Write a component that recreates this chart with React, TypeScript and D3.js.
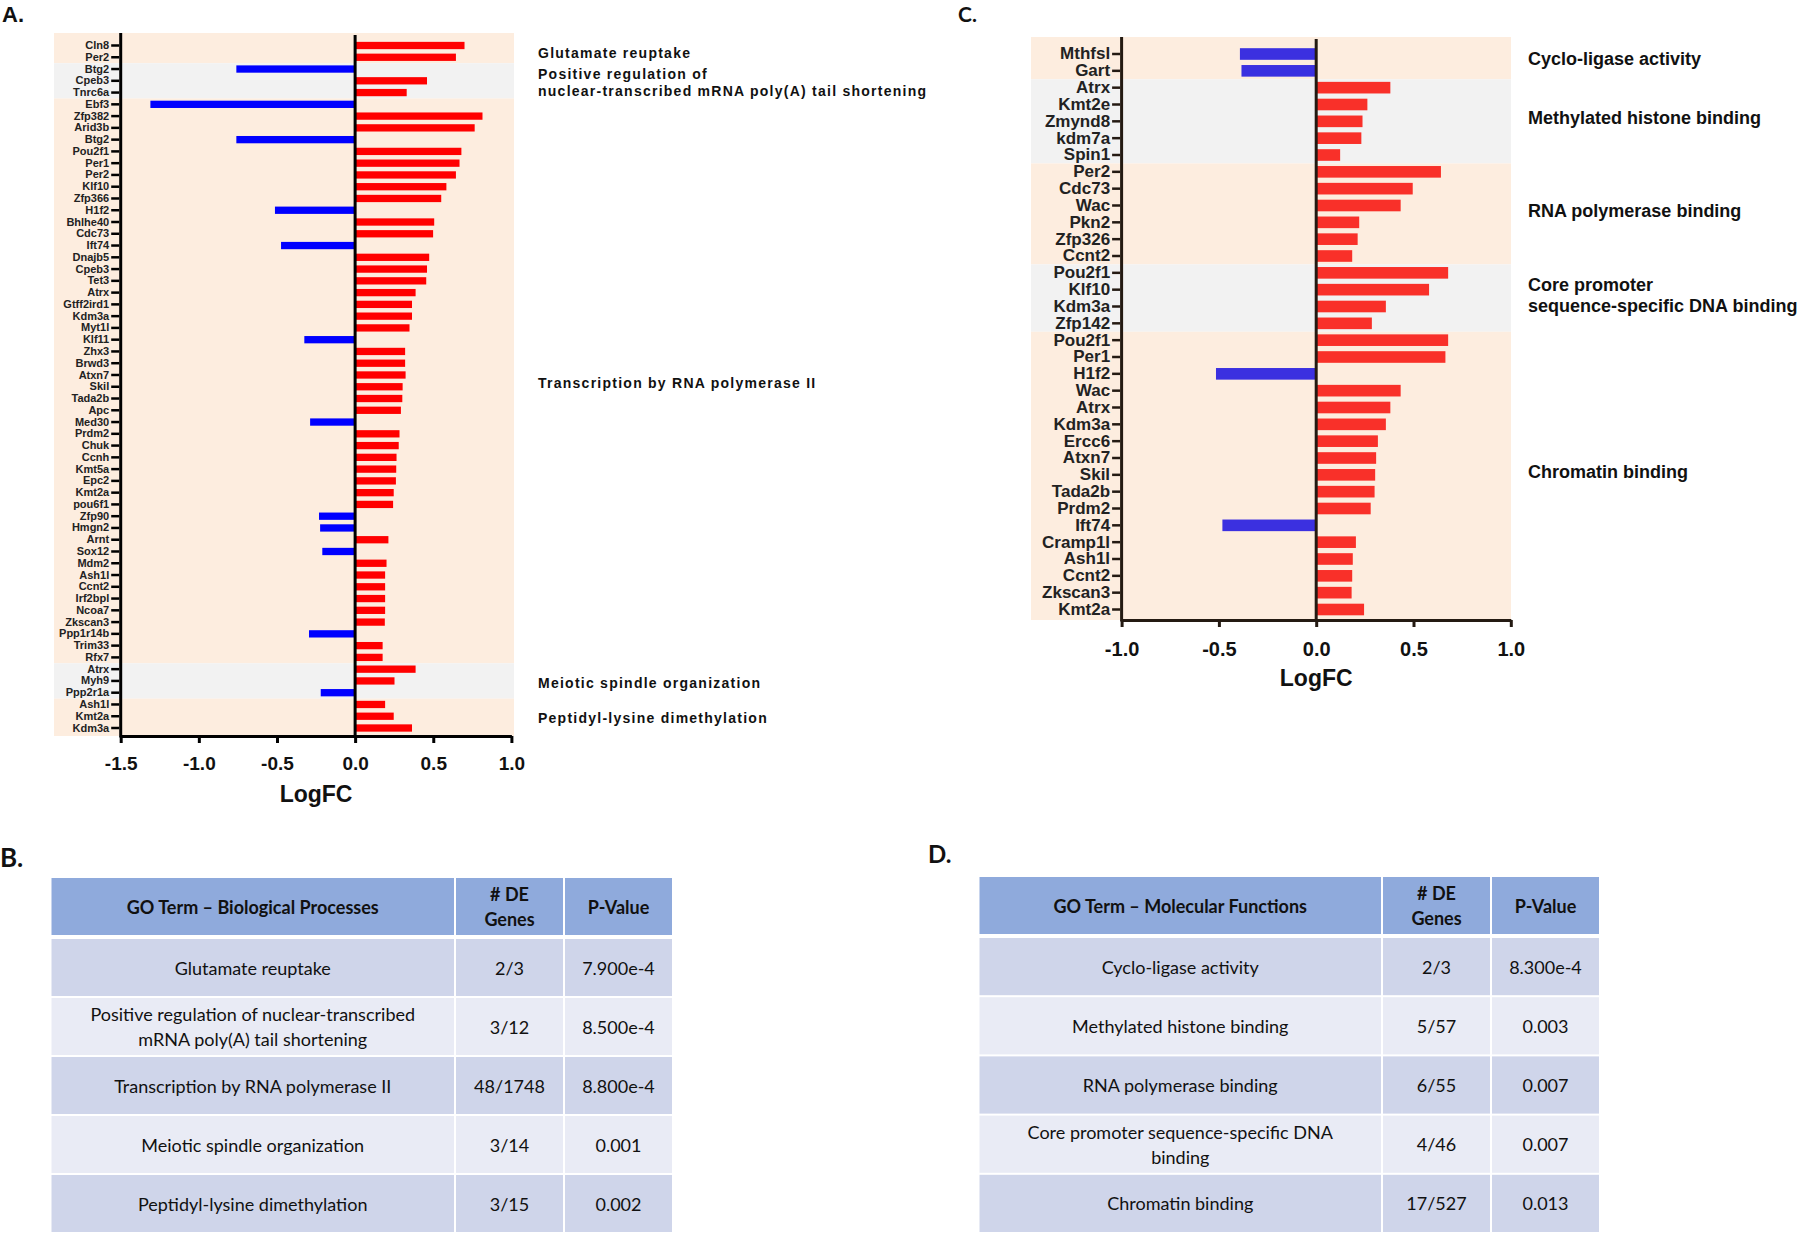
import React, { useRef, useEffect } from 'react';
import * as d3 from 'd3';

// ---- panel A: biological processes ----
const genesA = ["Cln8", "Per2", "Btg2", "Cpeb3", "Tnrc6a", "Ebf3", "Zfp382", "Arid3b", "Btg2", "Pou2f1", "Per1", "Per2", "Klf10", "Zfp366", "H1f2", "Bhlhe40", "Cdc73", "Ift74", "Dnajb5", "Cpeb3", "Tet3", "Atrx", "Gtff2ird1", "Kdm3a", "Myt1l", "Klf11", "Zhx3", "Brwd3", "Atxn7", "Skil", "Tada2b", "Apc", "Med30", "Prdm2", "Chuk", "Ccnh", "Kmt5a", "Epc2", "Kmt2a", "pou6f1", "Zfp90", "Hmgn2", "Arnt", "Sox12", "Mdm2", "Ash1l", "Ccnt2", "Irf2bpl", "Ncoa7", "Zkscan3", "Ppp1r14b", "Trim33", "Rfx7", "Atrx", "Myh9", "Ppp2r1a", "Ash1l", "Kmt2a", "Kdm3a"];
const logfcA = [0.70, 0.645, -0.76, 0.46, 0.33, -1.31, 0.815, 0.765, -0.76, 0.68, 0.668, 0.645, 0.584, 0.551, -0.513, 0.506, 0.499, -0.474, 0.474, 0.46, 0.455, 0.387, 0.364, 0.364, 0.348, -0.325, 0.32, 0.32, 0.323, 0.304, 0.302, 0.293, -0.288, 0.284, 0.279, 0.265, 0.263, 0.261, 0.247, 0.243, -0.231, -0.224, 0.213, -0.21, 0.201, 0.192, 0.192, 0.192, 0.192, 0.19, -0.295, 0.176, 0.176, 0.387, 0.252, -0.22, 0.192, 0.247, 0.364];
const termsA = ["Glutamate reuptake", "Positive regulation of\nnuclear-transcribed mRNA poly(A) tail shortening", "Transcription by RNA polymerase II", "Meiotic spindle organization", "Peptidyl-lysine dimethylation"];
const termSizesA = [2, 3, 48, 3, 3];
const ticksA = [-1.5, -1.0, -0.5, 0, 0.5, 1.0];

// ---- panel C: molecular functions ----
const genesC = ["Mthfsl", "Gart", "Atrx", "Kmt2e", "Zmynd8", "kdm7a", "Spin1", "Per2", "Cdc73", "Wac", "Pkn2", "Zfp326", "Ccnt2", "Pou2f1", "Klf10", "Kdm3a", "Zfp142", "Pou2f1", "Per1", "H1f2", "Wac", "Atrx", "Kdm3a", "Ercc6", "Atxn7", "Skil", "Tada2b", "Prdm2", "Ift74", "Cramp1l", "Ash1l", "Ccnt2", "Zkscan3", "Kmt2a"];
const logfcC = [-0.392, -0.384, 0.381, 0.263, 0.238, 0.232, 0.123, 0.641, 0.496, 0.434, 0.221, 0.213, 0.185, 0.678, 0.58, 0.358, 0.286, 0.678, 0.664, -0.515, 0.434, 0.381, 0.358, 0.317, 0.308, 0.303, 0.30, 0.28, -0.482, 0.204, 0.188, 0.185, 0.182, 0.246];
const termsC = ["Cyclo-ligase activity", "Methylated histone binding", "RNA polymerase binding", "Core promoter\nsequence-specific DNA binding", "Chromatin binding"];
const termSizesC = [2, 5, 6, 4, 17];
const ticksC = [-1.0, -0.5, 0, 0.5, 1.0];

// ---- tables B and D ----
const headerB = ["GO Term \u2013 Biological Processes", "# DE\nGenes", "P-Value"];
const rowTermsB = ["Glutamate reuptake", "Positive regulation of nuclear-transcribed\nmRNA poly(A) tail shortening", "Transcription by RNA polymerase II", "Meiotic spindle organization", "Peptidyl-lysine dimethylation"];
const countsB = ["2/3", "3/12", "48/1748", "3/14", "3/15"];
const pvalsB = ["7.900e-4", "8.500e-4", "8.800e-4", "0.001", "0.002"];

const headerD = ["GO Term \u2013 Molecular Functions", "# DE\nGenes", "P-Value"];
const rowTermsD = ["Cyclo-ligase activity", "Methylated histone binding", "RNA polymerase binding", "Core promoter sequence-specific DNA\nbinding", "Chromatin binding"];
const countsD = ["2/3", "5/57", "6/55", "4/46", "17/527"];
const pvalsD = ["8.300e-4", "0.003", "0.007", "0.007", "0.013"];

const FONT_A = "'Liberation Sans', Arial, sans-serif";
const FONT_T = "Lato, 'Open Sans', sans-serif";

const PEACH = "#fdeddf";
const GREY = "#f2f2f2";

interface PanelProps {
  genes: string[];
  values: number[];
  terms: string[];
  sizes: number[];
  ticks: number[];
  domain: [number, number];
  xRange: [number, number];
  firstRow: number;
  lastRow: number;
  plotTop: number;
  axisY: number;
  bandX: [number, number];
  barFill: number;
  up: string;
  down: string;
  axisColor: string;
  font: string;
  labelSize: number;
  tickFont: number;
  tickOffset: number;
  titleSize: number;
  titleY: number;
  termX: number;
  termSize: number;
  termDy: number;
  termLine: number;
  termSpacing: number;
}

const BarPanel: React.FC<PanelProps> = (p) => {
  const xAxisRef = useRef<SVGGElement | null>(null);
  const yAxisRef = useRef<SVGGElement | null>(null);
  const n = p.genes.length;
  const step = (p.lastRow - p.firstRow) / (n - 1);
  const r0 = p.firstRow - step / 2;

  const x = d3.scaleLinear().domain(p.domain).range(p.xRange);
  const y = d3.scaleBand<number>()
    .domain(d3.range(n))
    .range([r0, p.lastRow + step / 2])
    .paddingInner(1 - p.barFill)
    .paddingOuter((1 - p.barFill) / 2);

  useEffect(() => {
    const xa = d3.select(xAxisRef.current);
    xa.selectAll("*").remove();
    xa.call(d3.axisBottom(x).tickValues(p.ticks).tickFormat((d) => (+d).toFixed(1)).tickSize(7).tickSizeOuter(0));
    xa.select(".domain").attr("stroke", p.axisColor).attr("stroke-width", 3);
    xa.selectAll(".tick line").attr("stroke", p.axisColor).attr("stroke-width", 3);
    xa.selectAll(".tick text")
      .attr("y", p.tickOffset).attr("dy", "0.35em")
      .attr("font-family", p.font).attr("font-weight", "bold")
      .attr("font-size", p.tickFont).attr("fill", "#111");

    const ya = d3.select(yAxisRef.current);
    ya.selectAll("*").remove();
    ya.call(d3.axisLeft(y).tickFormat((i) => p.genes[i as number]).tickSize(8).tickPadding(2));
    ya.select(".domain").remove();
    ya.selectAll(".tick line").attr("stroke", p.axisColor).attr("stroke-width", 2.5);
    ya.selectAll(".tick text")
      .attr("font-family", p.font).attr("font-weight", "bold")
      .attr("font-size", p.labelSize).attr("fill", "#222");
  });

  // background bands per GO term
  const starts: number[] = [];
  p.sizes.reduce((acc, s) => { starts.push(acc); return acc + s; }, 0);
  const edge = (i: number) => r0 + i * step;

  return (
    <g>
      {p.sizes.map((s, k) => {
        const top = k === 0 ? p.plotTop : edge(starts[k]);
        const bottom = k === p.sizes.length - 1 ? p.axisY : edge(starts[k] + s);
        return (
          <rect key={"b" + k} x={p.bandX[0]} y={top} width={p.bandX[1] - p.bandX[0]}
            height={bottom - top} fill={k % 2 === 0 ? PEACH : GREY} />
        );
      })}
      {p.values.map((v, i) => (
        <rect key={"r" + i}
          x={Math.min(x(0), x(v))} y={y(i)}
          width={Math.abs(x(v) - x(0))} height={y.bandwidth()}
          fill={v >= 0 ? p.up : p.down} />
      ))}
      <line x1={x(0)} x2={x(0)} y1={p.plotTop + 2} y2={p.axisY} stroke={p.axisColor} strokeWidth={3} />
      <line x1={p.xRange[0]} x2={p.xRange[0]} y1={p.plotTop} y2={p.axisY + 1.5} stroke={p.axisColor} strokeWidth={3} />
      <g ref={yAxisRef} transform={`translate(${p.xRange[0] - 1.5},0)`} />
      <g ref={xAxisRef} transform={`translate(0,${p.axisY})`} />
      <text x={(p.xRange[0] + p.xRange[1]) / 2} y={p.titleY} textAnchor="middle" dominantBaseline="central"
        fontFamily={p.font} fontWeight="bold" fontSize={p.titleSize} fill="#111">LogFC</text>
      {p.terms.map((t, k) => {
        const mid = (edge(starts[k]) + edge(starts[k] + p.sizes[k])) / 2 + p.termDy;
        const lines = t.split("\n");
        return lines.map((ln, j) => (
          <text key={"t" + k + "-" + j} x={p.termX} y={mid + (j - (lines.length - 1) / 2) * p.termLine}
            dominantBaseline="central" fontFamily={p.font} fontWeight="bold"
            fontSize={p.termSize} letterSpacing={p.termSpacing} fill="#111">{ln}</text>
        ));
      })}
    </g>
  );
};

interface TableProps {
  header: string[];
  terms: string[];
  counts: string[];
  pvals: string[];
  colEdges: number[];
  headTop: number;
  headBottom: number;
  bodyTop: number;
  bodyBottom: number;
}

const GoTable: React.FC<TableProps> = (t) => {
  const rows = d3.scaleBand<number>().domain(d3.range(t.terms.length)).range([t.bodyTop, t.bodyBottom]);
  const lh = 25;
  const cell = (txt: string, cx: number, cy: number, bold: boolean, key: string) => {
    const lines = txt.split("\n");
    return lines.map((ln, j) => (
      <text key={key + j} x={cx} y={cy + (j - (lines.length - 1) / 2) * lh} textAnchor="middle"
        dominantBaseline="central" fontFamily={FONT_T} fontWeight={bold ? "bold" : "normal"}
        fontSize={18} fill="#111">{ln}</text>
    ));
  };
  const cols = [0, 1, 2];
  return (
    <g>
      {cols.map((c) => (
        <g key={"h" + c}>
          <rect x={t.colEdges[c] + 1} y={t.headTop} width={t.colEdges[c + 1] - t.colEdges[c] - 2}
            height={t.headBottom - t.headTop} fill="#8faadc" />
          {cell(t.header[c], (t.colEdges[c] + t.colEdges[c + 1]) / 2, (t.headTop + t.headBottom) / 2, true, "ht" + c)}
        </g>
      ))}
      {t.terms.map((term, i) => {
        const vals = [term, t.counts[i], t.pvals[i]];
        const y0 = rows(i) as number;
        const h = rows.bandwidth();
        return cols.map((c) => (
          <g key={"c" + i + "-" + c}>
            <rect x={t.colEdges[c] + 1} y={y0 + 1} width={t.colEdges[c + 1] - t.colEdges[c] - 2}
              height={h - 2} fill={i % 2 === 0 ? "#cfd5ea" : "#e9ebf5"} />
            {cell(vals[c], (t.colEdges[c] + t.colEdges[c + 1]) / 2, y0 + h / 2, false, "ct" + i + c)}
          </g>
        ));
      })}
    </g>
  );
};

const App: React.FC = () => {
  return (
    <svg width={1800} height={1234} style={{ position: "absolute", left: 0, top: 0, display: "block", background: "#fff" }}>
      <text x={2} y={22} fontFamily={FONT_A} fontWeight="bold" fontSize={22} fill="#111">A.</text>
      <text x={958} y={22} fontFamily={FONT_T} fontWeight="bold" fontSize={21} fill="#111">C.</text>
      <text x={0} y={867} fontFamily={FONT_T} fontWeight="bold" fontSize={26} fill="#111">B.</text>
      <text x={928} y={863} fontFamily={FONT_T} fontWeight="bold" fontSize={24} fill="#111">D.</text>

      <BarPanel genes={genesA} values={logfcA} terms={termsA} sizes={termSizesA} ticks={ticksA}
        domain={[-1.5, 1.0]} xRange={[120.7, 511.4]} firstRow={45.5} lastRow={728} plotTop={33} axisY={736}
        bandX={[54, 514]} barFill={0.62} up="#ff0000" down="#0000ff" axisColor="#000" font={FONT_A}
        labelSize={11} tickFont={19} tickOffset={27} titleSize={23} titleY={794}
        termX={538} termSize={14} termDy={2} termLine={17} termSpacing={1.25} />

      <BarPanel genes={genesC} values={logfcC} terms={termsC} sizes={termSizesC} ticks={ticksC}
        domain={[-1.0, 1.0]} xRange={[1121.6, 1510.8]} firstRow={54} lastRow={609.5} plotTop={37} axisY={620}
        bandX={[1031, 1511]} barFill={0.69} up="#f93029" down="#3b30e0" axisColor="#241a12" font={FONT_A}
        labelSize={17} tickFont={20} tickOffset={29} titleSize={23} titleY={678}
        termX={1528} termSize={18} termDy={-3} termLine={21} termSpacing={0} />

      <GoTable header={headerB} terms={rowTermsB} counts={countsB} pvals={pvalsB}
        colEdges={[50.5, 455, 564, 673]} headTop={878} headBottom={935} bodyTop={938} bodyBottom={1233} />
      <GoTable header={headerD} terms={rowTermsD} counts={countsD} pvals={pvalsD}
        colEdges={[978.5, 1382, 1491, 1600]} headTop={877} headBottom={934} bodyTop={937} bodyBottom={1233} />
    </svg>
  );
};

export default App;
